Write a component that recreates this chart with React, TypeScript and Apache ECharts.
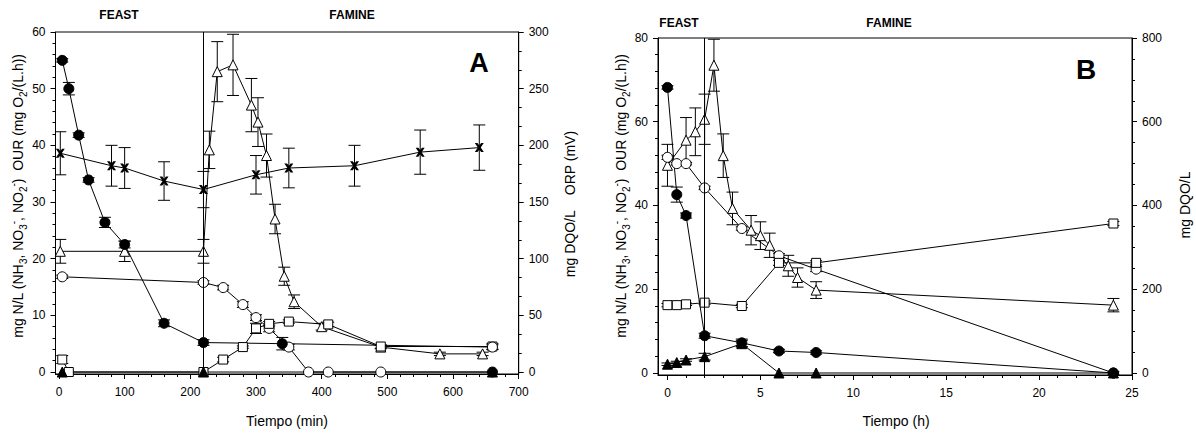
import { useEffect, useRef } from "react";
import * as echarts from "echarts";

const FONT = "'Liberation Sans', Arial, Helvetica, sans-serif";

// ---------------- Panel A — Tiempo (min) ----------------
const tNH3A = [5, 15, 30, 45, 70, 100, 160, 220, 340, 660];
const nh3A = [55, 50, 41.8, 33.9, 26.4, 22.5, 8.6, 5.2, 5.0, 4.4];
const errNH3A = [0.3, 1.1, 0.4, 0.4, 0.9, 0.6, 0.6, 0.5, 1.1, 0.4];

const tDqoA = [5, 220, 250, 280, 300, 320, 350, 380, 410, 490, 660];
const dqoA = [16.8, 15.8, 14.9, 11.9, 9.6, 7.7, 4.4, 0, 0, 0, 0];
const errDqoA = [0.3, 0.3, 0.4, 0.5, 0.5, 0.6, 0.5, 0, 0, 0, 0];

const tNO3A = [5, 15, 220, 250, 280, 300, 320, 350, 410, 490, 660];
const no3A = [2.2, 0, 0, 2.2, 4.4, 7.7, 8.5, 8.9, 8.4, 4.5, 4.5];
const errNO3A = [0.7, 0, 0, 0.4, 0.2, 0.9, 0.4, 0.3, 0.4, 0.3, 0.5];

const tOurA = [2, 100, 220, 229, 241, 265, 293, 303, 316, 329, 343, 358, 400, 490, 580, 645];
const ourA = [21.3, 21.3, 21.3, 39.2, 53, 54.2, 47.1, 44.1, 38.2, 27, 16.9, 12.4, 8, 4.4, 3.2, 3.2];
const errOurA = [2.1, 1.8, 2.1, 3.3, 5.3, 5.4, 4.7, 4.3, 3.8, 2.6, 1.6, 1.2, 0.6, 0.3, 0.3, 0.3];

const tNO2A = [5, 220, 660];
const no2A = [0, 0, 0];

const tOrpA = [2, 80, 100, 160, 220, 300, 350, 450, 550, 640];
const orpA = [193, 182, 180, 168.5, 161, 174, 180, 182, 194, 198];
const errOrpA = [19, 18, 18, 17, 16, 17, 17.5, 18, 19.5, 20];

const feastEndA = 220;

// ---------------- Panel B — Tiempo (h) ----------------
const tNH3B = [0, 0.5, 1, 2, 4, 6, 8, 24];
const nh3B = [68.2, 42.6, 37.6, 8.9, 7.2, 5.25, 4.9, 0];
const errNH3B = [0.4, 1.8, 0.6, 0.6, 0.9, 0.4, 0.4, 0.3];

const tDqoB = [0, 0.5, 1, 2, 4, 6, 8, 24];
const dqoB = [51.5, 50, 50, 44.2, 34.5, 28, 24.8, 0];
const errDqoB = [0.5, 0.3, 0.3, 0.4, 0.4, 0.5, 0.6, 0];

const tOurB = [0, 1, 1.5, 2, 2.5, 3, 3.5, 4.5, 5, 5.5, 6.5, 7, 8, 24];
const ourB = [49.6, 55.6, 57.6, 60.6, 73.5, 51.9, 39.3, 34.1, 32.8, 30.5, 25.6, 22.8, 19.8, 16.2];
const errOurB = [5, 5.4, 5.7, 6, 6.2, 5.2, 3.9, 3.5, 3.3, 2.9, 2.5, 2.3, 2, 1.6];

const tNO3B = [0, 0.5, 1, 2, 4, 6, 8, 24];
const no3B = [16.2, 16.2, 16.4, 16.8, 16.0, 26.3, 26.3, 35.7];
const errNO3B = [0.4, 0.3, 0.3, 0.4, 0.4, 0.6, 0.5, 0.5];

const tNO2B = [0, 0.5, 1, 2, 4, 6, 8, 24];
const no2B = [2.1, 2.5, 3.1, 3.9, 7.0, 0, 0, 0];
const errNO2B = [0.3, 0.3, 0.3, 0.8, 0.8, 0, 0, 0];

const feastEndB = 2;

// ---------------- Tick labels ----------------
const ticksXA = [0, 100, 200, 300, 400, 500, 600, 700];
const ticksYA = [0, 10, 20, 30, 40, 50, 60];
const ticksY2A = [0, 50, 100, 150, 200, 250, 300];
const ticksXB = [0, 5, 10, 15, 20, 25];
const ticksYB = [0, 20, 40, 60, 80];
const ticksY2B = [0, 200, 400, 600, 800];

const steps = (a: number, b: number, s: number) => {
  const r: number[] = [];
  for (let v = a; v <= b + 1e-9; v += s) r.push(+v.toFixed(4));
  return r;
};

const CROSS = "path://M0 0L3 0L5 2.6L7 0L10 0L6.6 5L10 10L7 10L5 7.4L3 10L0 10L3.4 5Z";

function mainAxis(gridIndex: number, position: string, min: number, max: number, ticks: number[], margin: number) {
  return {
    type: "value",
    gridIndex,
    position,
    min,
    max,
    axisLine: { show: true, onZero: false, lineStyle: { color: "#000", width: 1 } },
    axisTick: { show: true, inside: false, length: 5, customValues: ticks, lineStyle: { color: "#000", width: 1 } },
    axisLabel: { show: true, customValues: ticks, margin, fontSize: 12, color: "#000", fontFamily: FONT },
    splitLine: { show: false },
  };
}
function minorAxis(gridIndex: number, position: string, min: number, max: number, ticks: number[]) {
  return {
    type: "value",
    gridIndex,
    position,
    min,
    max,
    axisLine: { show: false, onZero: false },
    axisTick: { show: true, inside: false, length: 3, customValues: ticks, lineStyle: { color: "#000", width: 1 } },
    axisLabel: { show: false },
    splitLine: { show: false },
  };
}

function pts(xs: number[], ys: number[], fills: Record<number, string> = {}) {
  return xs.map((x, i) =>
    fills[i] ? { value: [x, ys[i]], itemStyle: { color: fills[i] } } : [x, ys[i]]
  );
}

function lineSeries(name: string, data: any[], xi: number, yi: number, symbol: string, size: number, fill: string, extra: any = {}) {
  return {
    name,
    type: "line",
    xAxisIndex: xi,
    yAxisIndex: yi,
    data,
    symbol,
    symbolSize: size,
    showSymbol: true,
    z: 3,
    lineStyle: { color: "#000", width: 1 },
    itemStyle: { color: fill, borderColor: "#000", borderWidth: 1 },
    emphasis: { disabled: true },
    silent: true,
    ...extra,
  };
}

function errSeries(xs: number[], ys: number[], es: number[], xi: number, yi: number) {
  return {
    type: "custom",
    xAxisIndex: xi,
    yAxisIndex: yi,
    z: 2,
    silent: true,
    clip: true,
    data: xs.map((x, i) => [x, ys[i], es[i]]),
    encode: { x: 0, y: 1 },
    renderItem: (_p: any, api: any) => {
      const x = api.value(0);
      const y = api.value(1);
      const e = api.value(2);
      if (!e) return null;
      const hi = api.coord([x, y + e]);
      const lo = api.coord([x, y - e]);
      const w = 6;
      const style = { stroke: "#000", lineWidth: 1, fill: "none" };
      return {
        type: "group",
        children: [
          { type: "line", shape: { x1: hi[0], y1: hi[1], x2: lo[0], y2: lo[1] }, style },
          { type: "line", shape: { x1: hi[0] - w, y1: hi[1], x2: hi[0] + w, y2: hi[1] }, style },
          { type: "line", shape: { x1: lo[0] - w, y1: lo[1], x2: lo[0] + w, y2: lo[1] }, style },
        ],
      };
    },
  };
}

function txt(x: number, y: number, text: string, size: number, bold = false, rotation = 0, rich?: any) {
  return {
    type: "text",
    x,
    y,
    rotation,
    silent: true,
    z: 100,
    style: {
      text,
      fill: "#000",
      font: `${bold ? "bold " : ""}${size}px ${FONT}`,
      fontSize: size,
      fontFamily: FONT,
      fontWeight: bold ? "bold" : "normal",
      align: "center",
      verticalAlign: "middle",
      textAlign: "center",
      textVerticalAlign: "middle",
      rich,
    },
  };
}

const TS = 14;
const richTitle = {
  n: { fontSize: TS, fontFamily: FONT, lineHeight: 20, verticalAlign: "middle", fill: "#000", color: "#000" },
  s: { fontSize: 10, fontFamily: FONT, lineHeight: 20, verticalAlign: "bottom", fill: "#000", color: "#000" },
  p: { fontSize: 10, fontFamily: FONT, lineHeight: 20, verticalAlign: "top", fill: "#000", color: "#000" },
};
const leftTitle =
  "{n|mg N/L (NH}{s|3}{n|, NO}{s|3}{p|-}{n|, NO}{s|2}{p|-}{n|)  OUR (mg O}{s|2}{n|/(L.h))}";

const markV = (x: number) => ({
  symbol: "none",
  silent: true,
  label: { show: false },
  lineStyle: { color: "#000", width: 1, type: "solid" },
  emphasis: { disabled: true },
  data: [{ xAxis: x }],
});

export default function App() {
  const ref = useRef<HTMLDivElement>(null);
  useEffect(() => {
    if (!ref.current) return;
    const chart = echarts.init(ref.current, null, { renderer: "svg" });
    const option: any = {
      animation: false,
      backgroundColor: "#fff",
      textStyle: { fontFamily: FONT },
      grid: [
        { left: 55.5, top: 32, width: 463.2, height: 342, show: true, borderColor: "#000", borderWidth: 1, backgroundColor: "transparent" },
        { left: 658, top: 38, width: 474, height: 337, show: true, borderColor: "#000", borderWidth: 1, backgroundColor: "transparent" },
      ],
      xAxis: [
        mainAxis(0, "bottom", -5.3, 700, ticksXA, 12),
        minorAxis(0, "bottom", -5.3, 700, steps(0, 700, 20)),
        mainAxis(1, "bottom", -0.51, 25, ticksXB, 12),
        minorAxis(1, "bottom", -0.51, 25, steps(0, 25, 1)),
      ],
      yAxis: [
        mainAxis(0, "left", -0.35, 60, ticksYA, 10),
        mainAxis(0, "right", -1.75, 300, ticksY2A, 10),
        minorAxis(0, "left", -0.35, 60, steps(0, 60, 2)),
        minorAxis(0, "right", -1.75, 300, steps(0, 300, 50 / 3)),
        mainAxis(1, "left", -0.48, 80, ticksYB, 10),
        mainAxis(1, "right", -4.8, 800, ticksY2B, 10),
        minorAxis(1, "left", -0.48, 80, steps(0, 80, 4)),
        minorAxis(1, "right", -4.8, 800, steps(0, 800, 50)),
      ],
      series: [
        // Panel A
        errSeries(tOurA, ourA, errOurA, 0, 0),
        errSeries(tOrpA, orpA, errOrpA, 0, 1),
        errSeries(tDqoA, dqoA, errDqoA, 0, 0),
        errSeries(tNO3A, no3A, errNO3A, 0, 0),
        errSeries(tNH3A, nh3A, errNH3A, 0, 0),
        lineSeries("OUR A", pts(tOurA, ourA), 0, 0, "triangle", 10, "#fff", { markLine: markV(feastEndA) }),
        lineSeries("ORP A", pts(tOrpA, orpA), 0, 1, CROSS, 9, "#000", { itemStyle: { color: "#000", borderWidth: 0 } }),
        lineSeries("DQO A", pts(tDqoA, dqoA, { 10: "#000" }), 0, 0, "circle", 10, "#fff"),
        lineSeries("NO3 A", pts(tNO3A, no3A), 0, 0, "rect", 9, "#fff"),
        lineSeries("NH3 A", pts(tNH3A, nh3A, { 9: "#fff" }), 0, 0, "circle", 10, "#000"),
        lineSeries("NO2 A", pts(tNO2A, no2A), 0, 0, "triangle", 10, "#000"),
        // Panel B
        errSeries(tOurB, ourB, errOurB, 2, 4),
        errSeries(tDqoB, dqoB, errDqoB, 2, 4),
        errSeries(tNO3B, no3B, errNO3B, 2, 4),
        errSeries(tNH3B, nh3B, errNH3B, 2, 4),
        errSeries(tNO2B, no2B, errNO2B, 2, 4),
        lineSeries("OUR B", pts(tOurB, ourB), 2, 4, "triangle", 10, "#fff", { markLine: markV(feastEndB) }),
        lineSeries("DQO B", pts(tDqoB, dqoB), 2, 4, "circle", 10, "#fff"),
        lineSeries("NO3 B", pts(tNO3B, no3B), 2, 4, "rect", 9, "#fff"),
        lineSeries("NH3 B", pts(tNH3B, nh3B), 2, 4, "circle", 10, "#000"),
        lineSeries("NO2 B", pts(tNO2B, no2B), 2, 4, "triangle", 10, "#000"),
      ],
      graphic: [
        txt(119, 15, "FEAST", 12, true),
        txt(352, 15, "FAMINE", 12, true),
        txt(679, 23, "FEAST", 12, true),
        txt(889, 23, "FAMINE", 12, true),
        txt(479, 63, "A", 27, true),
        txt(1086, 69, "B", 28, true),
        txt(287, 421, "Tiempo (min)", TS),
        txt(896, 421, "Tiempo (h)", TS),
        txt(18, 196, leftTitle, TS, false, Math.PI / 2, richTitle),
        txt(621, 196, leftTitle, TS, false, Math.PI / 2, richTitle),
        txt(570, 204, "mg DQO/L    ORP (mV)", TS, false, Math.PI / 2),
        txt(1185, 205, "mg DQO/L", TS, false, Math.PI / 2),
      ],
    };
    chart.setOption(option);
    return () => chart.dispose();
  }, []);
  return (
    <div
      ref={ref}
      style={{ position: "fixed", left: 0, top: 0, width: 1196, height: 434, background: "#fff" }}
    />
  );
}
